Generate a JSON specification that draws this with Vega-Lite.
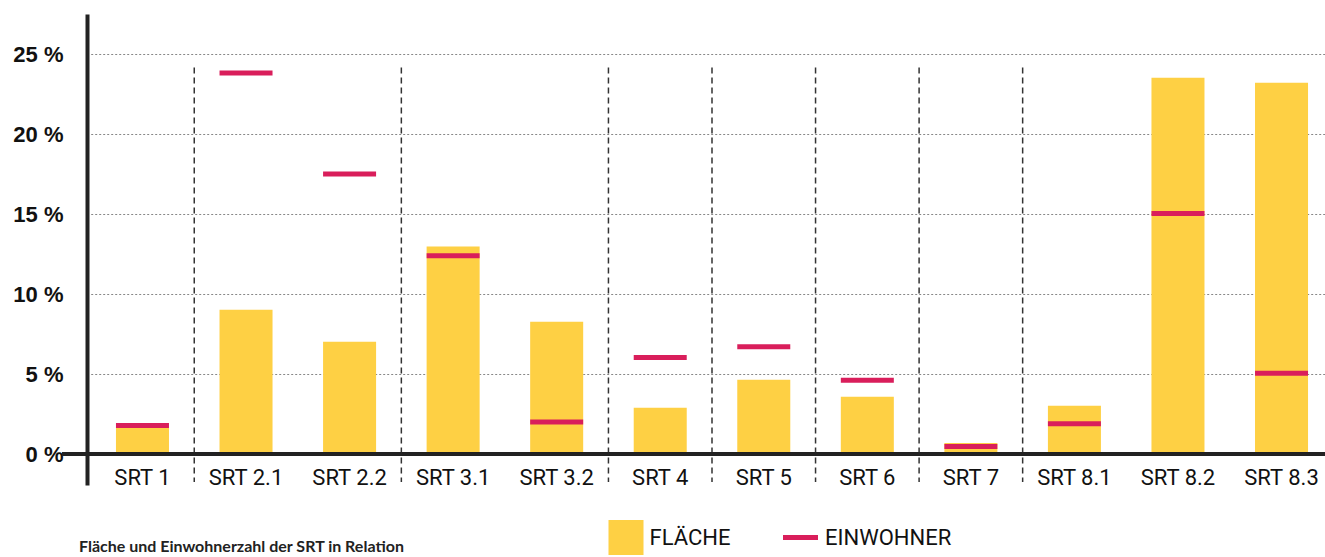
{
  "$schema": "https://vega.github.io/schema/vega-lite/v6.json",
  "autosize": {"type": "none"},
  "width": 1263,
  "height": 471,
  "padding": {"left": 62, "top": 14, "right": 0, "bottom": 72},
  "background": "white",
  "config": {"view": {"stroke": null}},
  "title": {"text": "Fläche und Einwohnerzahl der SRT in Relation", "orient": "bottom", "anchor": "start", "frame": "group", "dx": 17, "offset": -16, "font": "Lato", "fontSize": 16, "fontWeight": "bold", "color": "#222"},
  "data": {"values": [
    {"SRT": "SRT 1", "Flaeche": 1.65, "Einwohner": 1.78, "neueGruppe": false},
    {"SRT": "SRT 2.1", "Flaeche": 9.02, "Einwohner": 23.82, "neueGruppe": true},
    {"SRT": "SRT 2.2", "Flaeche": 7.02, "Einwohner": 17.5, "neueGruppe": false},
    {"SRT": "SRT 3.1", "Flaeche": 12.98, "Einwohner": 12.39, "neueGruppe": true},
    {"SRT": "SRT 3.2", "Flaeche": 8.27, "Einwohner": 2.0, "neueGruppe": false},
    {"SRT": "SRT 4", "Flaeche": 2.89, "Einwohner": 6.04, "neueGruppe": true},
    {"SRT": "SRT 5", "Flaeche": 4.64, "Einwohner": 6.71, "neueGruppe": true},
    {"SRT": "SRT 6", "Flaeche": 3.58, "Einwohner": 4.62, "neueGruppe": true},
    {"SRT": "SRT 7", "Flaeche": 0.69, "Einwohner": 0.48, "neueGruppe": true},
    {"SRT": "SRT 8.1", "Flaeche": 3.02, "Einwohner": 1.89, "neueGruppe": true},
    {"SRT": "SRT 8.2", "Flaeche": 23.52, "Einwohner": 15.04, "neueGruppe": false},
    {"SRT": "SRT 8.3", "Flaeche": 23.2, "Einwohner": 5.06, "neueGruppe": false}
  ]},
  "layer": [
    {
      "mark": {"type": "bar", "width": {"band": 0.512}},
      "encoding": {
        "x": {"field": "SRT", "type": "nominal", "sort": null,
          "scale": {"type": "band", "paddingInner": 0, "paddingOuter": 0, "range": [28.7, 1271.3]},
          "axis": {"title": null, "orient": "bottom", "offset": -31, "domain": false, "ticks": false, "tickSize": 0, "labelPadding": 30, "labelBaseline": "alphabetic", "labelFont": "Roboto", "labelFontSize": 22, "labelColor": "#111", "labelAngle": 0, "grid": false}},
        "y": {"field": "Flaeche", "type": "quantitative",
          "scale": {"domain": [-1.93, 27.5], "nice": false, "zero": false},
          "axis": {"title": null, "values": [0, 5, 10, 15, 20, 25], "labelExpr": "datum.value + ' %'", "offset": -25, "domainColor": "#222", "domainWidth": 4, "ticks": false, "tickSize": 0, "labelPadding": 24, "labelFont": "Liberation Sans", "labelFontWeight": "bold", "labelFontSize": 22, "labelColor": "#111", "grid": true, "gridColor": "#888", "gridDash": [2, 2], "gridWidth": 1}},
        "fill": {"datum": "FLÄCHE", "type": "nominal",
          "scale": {"range": ["#FED044"]},
          "legend": {"title": null, "orient": "none", "legendX": 546.5, "legendY": 506, "symbolType": "square", "symbolSize": 1225, "symbolStrokeWidth": 0, "labelFont": "Roboto", "labelFontSize": 22, "labelColor": "#111", "labelOffset": 6, "padding": 0}}
      }
    },
    {
      "mark": {"type": "tick", "thickness": 5, "size": 53, "opacity": 1},
      "encoding": {
        "x": {"field": "SRT", "type": "nominal", "sort": null},
        "y": {"field": "Einwohner", "type": "quantitative"},
        "color": {"datum": "EINWOHNER", "type": "nominal",
          "scale": {"range": ["#D91E5B"]},
          "legend": {"title": null, "orient": "none", "legendX": 721, "legendY": 506, "symbolType": "M-1,-0.14H1V0.14H-1Z", "symbolSize": 1225, "symbolStrokeWidth": 0, "symbolOpacity": 1, "labelFont": "Roboto", "labelFontSize": 22, "labelColor": "#111", "labelOffset": 7, "padding": 0}}
      }
    },
    {
      "transform": [{"filter": "datum.neueGruppe"}],
      "mark": {"type": "rule", "strokeDash": [6, 4], "stroke": "#333", "strokeWidth": 1.5},
      "encoding": {
        "x": {"field": "SRT", "type": "nominal", "sort": null, "bandPosition": 0},
        "y": {"datum": 24.16},
        "y2": {"datum": -1.75}
      }
    },
    {
      "mark": {"type": "rule", "stroke": "#222", "strokeWidth": 3.5},
      "encoding": {
        "y": {"datum": 0}
      }
    }
  ]
}
